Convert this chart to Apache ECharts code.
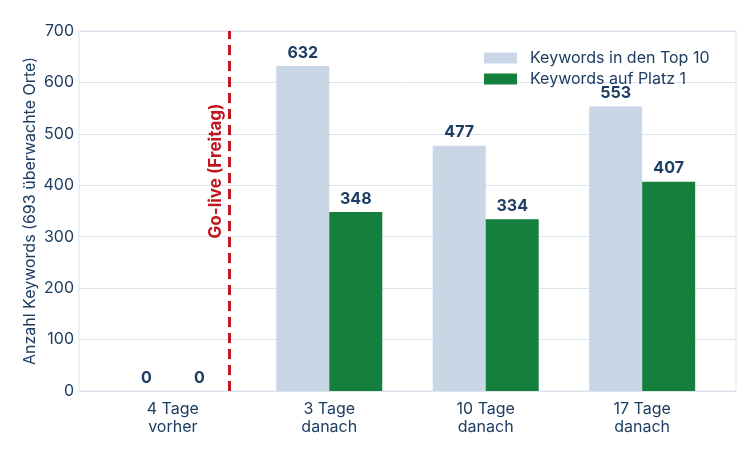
<!DOCTYPE html>
<html>
<head>
<meta charset="utf-8">
<script src="https://cdn.jsdelivr.net/npm/echarts@6/dist/echarts.min.js"></script>
<style>
  html, body { margin: 0; padding: 0; background: #fff; }
  #chart { width: 755px; height: 452px; }
</style>
</head>
<body>
<div id="chart"></div>
<script>
// data
var categories = ["4 Tage\nvorher", "3 Tage\ndanach", "10 Tage\ndanach", "17 Tage\ndanach"];
var top10 = [0, 632, 477, 553];
var platz1 = [0, 348, 334, 407];
var goLive = 0.36; // position of the go-live marker, in category units
var yTicks = [0, 700, 100];

var navy = "#1d3d62";
var font = "Inter";

var chart = echarts.init(document.getElementById("chart"));

var option = {
  backgroundColor: "#fff",
  textStyle: { fontFamily: font },
  grid: [
    // outer frame + gridlines (x range -0.6 .. 3.6)
    { left: 79, right: 19, top: 31, bottom: 61, show: true, borderColor: "#dde3ec", borderWidth: 1 },
    // bars on the inner category band
    { left: 94.6, right: 34.6, top: 31, bottom: 61 }
  ],
  xAxis: [
    { gridIndex: 0, type: "value", min: -0.6, max: 3.6, show: false },
    {
      gridIndex: 1,
      type: "category",
      data: categories,
      axisLine: { show: false },
      axisTick: { alignWithLabel: true, length: 4, lineStyle: { color: navy } },
      axisLabel: { color: navy, fontSize: 16, lineHeight: 18, margin: 9, fontFamily: font }
    }
  ],
  yAxis: [
    {
      gridIndex: 0,
      type: "value",
      min: yTicks[0],
      max: yTicks[1],
      interval: yTicks[2],
      name: "Anzahl Keywords (693 überwachte Orte)",
      nameLocation: "middle",
      nameGap: 41,
      nameMoveOverlap: false,
      nameTextStyle: { color: navy, fontSize: 16, fontFamily: font },
      axisLine: { show: false },
      axisTick: { show: false },
      axisLabel: { color: navy, fontSize: 16, margin: 5, fontFamily: font },
      splitLine: { lineStyle: { color: "#dde3ec", width: 1 } }
    },
    { gridIndex: 1, type: "value", min: yTicks[0], max: yTicks[1], show: false }
  ],
  legend: {
    orient: "vertical",
    left: 479,
    top: 45,
    itemWidth: 33,
    itemHeight: 11,
    itemGap: 5,
    icon: "rect",
    textStyle: { color: navy, fontSize: 16, fontFamily: font, padding: [0, 0, 0, 8] },
    data: ["Keywords in den Top 10", "Keywords auf Platz 1"]
  },
  series: [
    {
      name: "Keywords in den Top 10",
      type: "bar",
      xAxisIndex: 1,
      yAxisIndex: 1,
      data: top10,
      barWidth: 53,
      barGap: "0%",
      itemStyle: { color: "#c9d6e5" },
      label: { show: true, position: "top", distance: 5, color: navy, fontSize: 16, fontWeight: "bold", fontFamily: font }
    },
    {
      name: "Keywords auf Platz 1",
      type: "bar",
      xAxisIndex: 1,
      yAxisIndex: 1,
      data: platz1,
      barWidth: 53,
      barGap: "0%",
      itemStyle: { color: "#15803d" },
      label: { show: true, position: "top", distance: 5, color: navy, fontSize: 16, fontWeight: "bold", fontFamily: font }
    },
    {
      name: "golive",
      type: "line",
      xAxisIndex: 0,
      yAxisIndex: 0,
      data: [],
      markLine: {
        silent: true,
        symbol: "none",
        lineStyle: { color: "#c0161e", type: [10, 6], width: 3 },
        label: {
          show: true,
          formatter: "Go-live (Freitag)",
          position: "insideMiddleTop",
          color: "#c0161e",
          fontSize: 17,
          fontWeight: "bold",
          fontFamily: font,
          distance: 5,
          padding: [0, 0, 0, 80]
        },
        data: [{ xAxis: goLive }]
      }
    }
  ]
};

chart.setOption(option);
</script>
</body>
</html>
